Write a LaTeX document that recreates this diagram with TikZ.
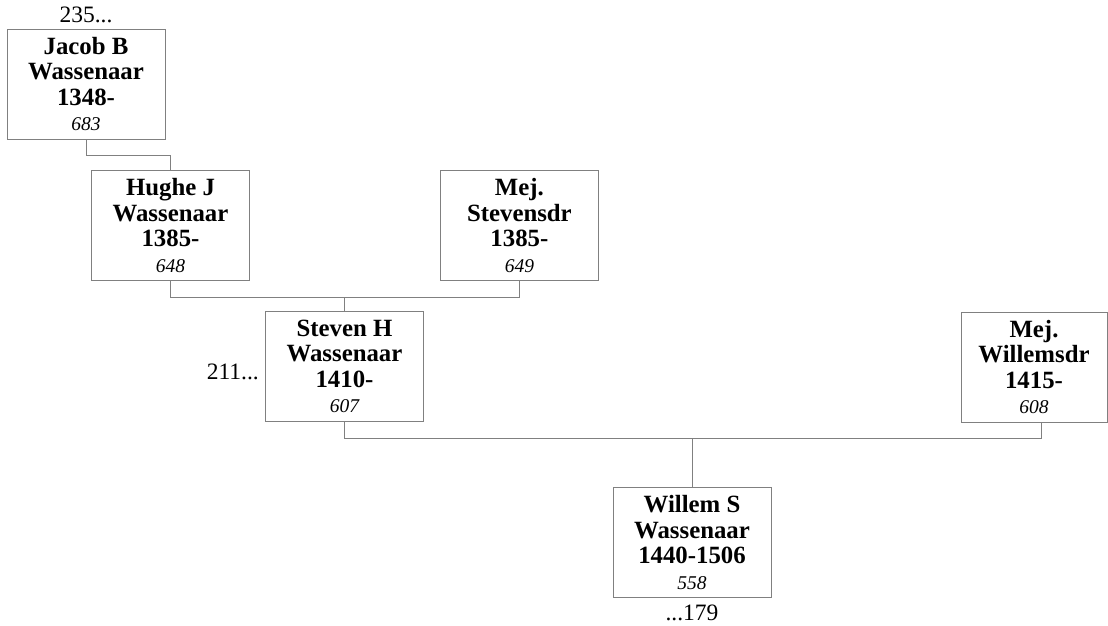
\documentclass[tikz,border=0pt]{standalone}
\usepackage{fontspec}
\setmainfont{Liberation Serif}
\usepackage{tikz}
\usetikzlibrary{positioning, calc}
\newcommand{\volgnr}[1]{{\mdseries\itshape\fontsize{19.5}{25}\selectfont #1}}
\tikzset{
  persoon/.style={rectangle, draw=gray, line width=0.9pt, minimum width=158pt, minimum height=110pt, inner sep=3pt, align=center, font=\bfseries\fontsize{24.8}{25.5}\selectfont},
  nummer/.style={inner sep=1pt, font=\fontsize{23.5}{25}\selectfont},
  lijn/.style={draw=gray, line width=0.9pt},
}
\begin{document}
\begin{tikzpicture}[x=1pt, y=1pt]
  \useasboundingbox (0,0) rectangle (1108,-626);
  % Personen
  \node[persoon] (jacob) at (86,-84) {Jacob B\\Wassenaar\\1348-\\\volgnr{683}};
  \node[persoon] (hughe) at (170.5,-225.5) {Hughe J\\Wassenaar\\1385-\\\volgnr{648}};
  \node[persoon, right=190pt of hughe] (stevensdr) {Mej.\\Stevensdr\\1385-\\\volgnr{649}};
  \node[persoon] (steven) at (344.5,-366.5) {Steven H\\Wassenaar\\1410-\\\volgnr{607}};
  \node[persoon, minimum width=146pt] (willemsdr) at (1034,-367) {Mej.\\Willemsdr\\1415-\\\volgnr{608}};
  \node[persoon] (willem) at (692,-542.5) {Willem S\\Wassenaar\\1440-1506\\\volgnr{558}};
  % Verwijzingen
  \node[nummer, above=5pt of jacob] (ref235) {235...};
  \node[nummer, left=5pt of steven, yshift=-5pt] (ref211) {211...};
  \node[nummer, below=6pt of willem] (ref179) {...179};
  % Lijnen
  \draw[lijn] (jacob.south) -- ++(0,-16) -| (hughe.north);
  \draw[lijn] (hughe.south) -- ++(0,-16) coordinate (h1) -| (stevensdr.south);
  \draw[lijn] (steven.north) -- (steven.north |- h1);
  \draw[lijn] (steven.south) -- ++(0,-16) coordinate (s1) -| ([xshift=7pt]willemsdr.south);
  \draw[lijn] (willem.north) -- (willem.north |- s1);
\end{tikzpicture}
\end{document}
